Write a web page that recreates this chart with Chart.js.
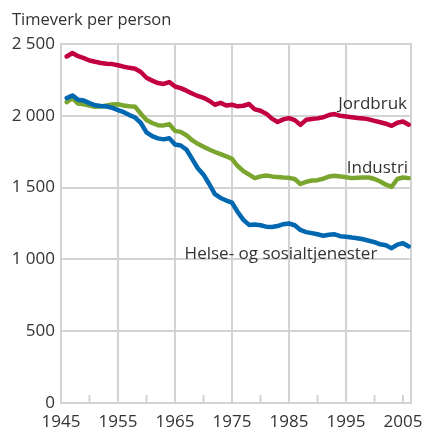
<!DOCTYPE html>
<html>
<head>
<meta charset="utf-8">
<script src="https://cdn.jsdelivr.net/npm/chart.js@4.4.1/dist/chart.umd.min.js"></script>
<style>
  html, body { margin: 0; padding: 0; background: #ffffff; }
  #wrap { width: 423px; height: 432px; position: relative; }
</style>
</head>
<body>
<div id="wrap"><canvas id="c" width="423" height="432"></canvas></div>
<script>
const years = [];
for (let y = 1946; y <= 2006; y++) years.push(y);

const jordbruk = [
  2413, 2437, 2415, 2402, 2385, 2376, 2368, 2362, 2360, 2352,
  2342, 2334, 2328, 2305, 2265, 2245, 2228, 2222, 2235, 2204,
  2193, 2175, 2155, 2138, 2125, 2105, 2077, 2090, 2072, 2077,
  2066, 2070, 2082, 2045, 2035, 2015, 1980, 1957, 1975, 1984,
  1970, 1937, 1972, 1978, 1982, 1990, 2005, 2012, 2000, 1995,
  1990, 1985, 1982, 1975, 1965, 1955, 1945, 1930, 1952, 1960,
  1938
];
const industri = [
  2095, 2123, 2085, 2080, 2072, 2063, 2065, 2072, 2078, 2080,
  2072, 2067, 2063, 2015, 1970, 1950, 1935, 1933, 1942, 1895,
  1888, 1865, 1830, 1805, 1785, 1765, 1748, 1733, 1718, 1700,
  1650, 1615, 1590, 1566, 1578, 1584, 1578, 1573, 1570, 1568,
  1560, 1525, 1540, 1549, 1552, 1562, 1577, 1582, 1578, 1572,
  1566, 1568, 1570, 1570, 1560, 1542, 1520, 1505, 1560, 1570,
  1566
];
const helse = [
  2123, 2142, 2112, 2106, 2088, 2073, 2068, 2065, 2055, 2040,
  2025, 2005, 1988, 1950, 1885, 1858, 1843, 1836, 1844, 1800,
  1793, 1765, 1700, 1635, 1590, 1525, 1455, 1428, 1410, 1395,
  1330, 1275, 1240, 1243, 1238, 1228, 1225, 1232, 1245, 1250,
  1238, 1205, 1190, 1183, 1175, 1165, 1172, 1175, 1162, 1158,
  1152, 1147, 1140, 1130, 1120, 1105, 1098, 1078, 1103, 1112,
  1090
];

const seriesNames = ['Jordbruk', 'Industri', 'Helse- og sosialtjenester'];
const seriesColors = ['#c3003f', '#7aa62f', '#0068b1'];
// label anchor: [year, value, align]
const labelAnchors = [[2005.7, 2080, 'right'], [2005.9, 1635, 'right'], [2000.5, 1035, 'right']];

const xTicks = [1945, 1950, 1955, 1960, 1965, 1970, 1975, 1980, 1985, 1990, 1995, 2000, 2005];
const xLabelTicks = [1945, 1955, 1965, 1975, 1985, 1995, 2005];
const xGridTicks = [1955, 1965, 1975, 1985, 1995];
const yTicks = [0, 500, 1000, 1500, 2000, 2500];
const title = 'Timeverk per person';

const FONT = '"Open Sans", "DejaVu Sans", sans-serif';
const TEXT = '#333333';
const GRID = '#d3d3d3';

const toXY = arr => arr.map((v, i) => ({ x: years[i], y: v }));

const extras = {
  id: 'extras',
  beforeDatasetsDraw(chart) {
    const { ctx, chartArea: a, scales } = chart;
    ctx.save();
    ctx.strokeStyle = GRID;
    ctx.lineWidth = 2;
    ctx.beginPath();
    ctx.moveTo(a.right, a.top - 1);
    ctx.lineTo(a.right, a.bottom);
    ctx.stroke();
    xTicks.forEach(v => {
      if (xGridTicks.includes(v) || v === 1945) return;
      const px = scales.x.getPixelForValue(v);
      ctx.beginPath();
      ctx.moveTo(px, a.bottom);
      ctx.lineTo(px, a.bottom - 8);
      ctx.stroke();
    });
    ctx.restore();
  },
  afterDraw(chart) {
    const { ctx, scales } = chart;
    ctx.save();
    ctx.fillStyle = TEXT;
    ctx.font = '16.5px ' + FONT;
    ctx.textBaseline = 'middle';
    ctx.textAlign = 'left';
    ctx.fillText(title, 12, 20);
    ctx.font = '17px ' + FONT;
    seriesNames.forEach((n, i) => {
      const [yr, val, al] = labelAnchors[i];
      ctx.textAlign = al;
      ctx.fillText(n, scales.x.getPixelForValue(yr), scales.y.getPixelForValue(val));
    });
    ctx.restore();
  }
};

new Chart(document.getElementById('c'), {
  type: 'line',
  data: {
    datasets: [helse, industri, jordbruk].map((arr, k) => {
      const idx = [2, 1, 0][k];
      return {
        label: seriesNames[idx],
        data: toXY(arr),
        borderColor: seriesColors[idx],
        borderWidth: 4.5,
        pointRadius: 0,
        tension: 0,
        borderJoinStyle: 'round',
        borderCapStyle: 'round',
        fill: false
      };
    })
  },
  options: {
    responsive: false,
    animation: false,
    devicePixelRatio: 1,
    layout: { padding: { top: 44, right: 12, left: 0, bottom: 0 } },
    plugins: { legend: { display: false }, tooltip: { enabled: false } },
    scales: {
      x: {
        type: 'linear',
        min: 1945,
        max: 2006.4,
        afterBuildTicks: s => { s.ticks = xTicks.map(v => ({ value: v })); },
        afterFit: s => { s.height = 29; s.paddingLeft = 0; s.paddingRight = 0; },
        ticks: {
          autoSkip: false,
          maxRotation: 0,
          padding: 9,
          color: TEXT,
          font: { family: FONT, size: 17 },
          callback: v => (xLabelTicks.includes(v) ? String(v) : '')
        },
        grid: {
          drawTicks: false,
          lineWidth: 2,
          color: c => (c.tick && xGridTicks.includes(c.tick.value) ? GRID : 'rgba(0,0,0,0)')
        },
        border: { display: true, color: GRID, width: 2 }
      },
      y: {
        min: 0,
        max: 2500,
        afterBuildTicks: s => { s.ticks = yTicks.map(v => ({ value: v })); },
        afterFit: s => { s.width = 61; },
        ticks: {
          padding: 6,
          color: TEXT,
          font: { family: FONT, size: 17 },
          callback: v => String(v).replace(/\B(?=(\d{3})+(?!\d))/g, ' ')
        },
        grid: { drawTicks: false, lineWidth: 2, color: GRID },
        border: { display: true, color: GRID, width: 2 }
      }
    }
  },
  plugins: [extras]
});
</script>
</body>
</html>
